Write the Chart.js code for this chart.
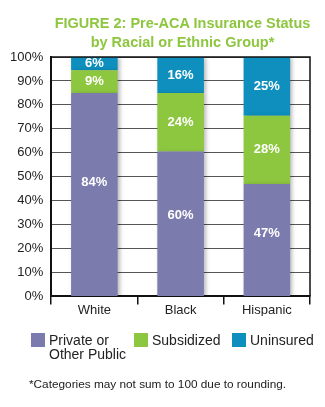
<!DOCTYPE html>
<html>
<head>
<meta charset="utf-8">
<script src="https://cdn.jsdelivr.net/npm/chart.js@4.4.1/dist/chart.umd.min.js"></script>
<style>
  html, body { margin: 0; padding: 0; background: #fff; }
  #wrap { position: relative; width: 325px; height: 407px; font-family: Arial, "Liberation Sans", sans-serif; }
  #chart { position: absolute; left: 0; top: 0; }
  .title { position: absolute; left: 40px; width: 285px; top: 14px; text-align: center;
           color: #8dc63f; font-weight: bold; font-size: 14.5px; line-height: 19px; }
  .leg { position: absolute; top: 333px; font-size: 14px; line-height: 14px; color: #222; }
  .leg .sw { position: absolute; left: 0; top: 0px; width: 14px; height: 14px; }
  .leg .tx { position: absolute; left: 18px; top: 0; white-space: nowrap; }
  .note { position: absolute; left: 29px; top: 377px; font-size: 11.8px; color: #222; white-space: nowrap; }
</style>
</head>
<body>
<div id="wrap">
  <canvas id="chart" width="325" height="407"></canvas>
  <div class="title">FIGURE 2: Pre-ACA Insurance Status<br>by Racial or Ethnic Group*</div>
  <div class="leg" style="left:31px"><div class="sw" style="background:#7b7bad"></div><div class="tx">Private or<br>Other Public</div></div>
  <div class="leg" style="left:134px"><div class="sw" style="background:#8dc63f"></div><div class="tx">Subsidized</div></div>
  <div class="leg" style="left:232px"><div class="sw" style="background:#0e8fbd"></div><div class="tx">Uninsured</div></div>
  <div class="note">*Categories may not sum to 100 due to rounding.</div>
</div>
<script>
// categories and values (bar heights, labels as printed)
const groups = ['White', 'Black', 'Hispanic'];
const privateVals = [85, 60.5, 47];
const subsidizedVals = [9.5, 24.5, 28.5];
const uninsuredVals = [5.5, 15, 24.5];
const privateLabels = ['84%', '60%', '47%'];
const subsidizedLabels = ['9%', '24%', '28%'];
const uninsuredLabels = ['6%', '16%', '25%'];
const yTicks = [0, 10, 20, 30, 40, 50, 60, 70, 80, 90, 100];

const FONT = 'Arial, "Liberation Sans", sans-serif';

// soft shadow behind the bars
const barShadow = {
  id: 'barShadow',
  beforeDatasetsDraw(chart) {
    const ctx = chart.ctx;
    ctx.save();
    ctx.shadowColor = 'rgba(0,0,0,0.28)';
    ctx.shadowBlur = 4;
    ctx.shadowOffsetX = 2;
    ctx.shadowOffsetY = 1;
  },
  afterDatasetsDraw(chart) {
    chart.ctx.restore();
  }
};

// white percent labels inside the segments
const segLabels = {
  id: 'segLabels',
  afterDatasetsDraw(chart) {
    const ctx = chart.ctx;
    ctx.save();
    ctx.fillStyle = '#fff';
    ctx.font = 'bold 13px ' + FONT;
    ctx.textAlign = 'center';
    ctx.textBaseline = 'middle';
    chart.data.datasets.forEach((ds, i) => {
      const meta = chart.getDatasetMeta(i);
      meta.data.forEach((bar, j) => {
        const frac = ds.labelPos;
        const y = bar.base - (bar.base - bar.y) * frac;
        ctx.fillText(ds.texts[j], bar.x, y);
      });
    });
    ctx.restore();
  }
};

// top and right frame of the plot area
const frame = {
  id: 'frame',
  afterDraw(chart) {
    const { ctx, chartArea: a } = chart;
    ctx.save();
    ctx.strokeStyle = '#111';
    ctx.lineWidth = 1.5;
    ctx.beginPath();
    ctx.moveTo(a.left, a.top);
    ctx.lineTo(a.right, a.top);
    ctx.lineTo(a.right, a.bottom);
    ctx.stroke();
    ctx.restore();
  }
};

new Chart(document.getElementById('chart'), {
  type: 'bar',
  data: {
    labels: groups,
    datasets: [
      { label: 'Private or Other Public', data: privateVals, texts: privateLabels, labelPos: 0.56, backgroundColor: '#7b7bad' },
      { label: 'Subsidized', data: subsidizedVals, texts: subsidizedLabels, labelPos: 0.5, backgroundColor: '#8dc63f' },
      { label: 'Uninsured', data: uninsuredVals, texts: uninsuredLabels, labelPos: 0.5, backgroundColor: '#0e8fbd' }
    ]
  },
  options: {
    responsive: false,
    animation: false,
    layout: { padding: { left: 2, right: 15, top: 57, bottom: 91 } },
    datasets: { bar: { categoryPercentage: 1, barPercentage: 0.54, borderWidth: 0 } },
    plugins: { legend: { display: false }, tooltip: { enabled: false }, title: { display: false } },
    scales: {
      x: {
        stacked: true,
        grid: { offset: true, drawOnChartArea: false, drawTicks: true, tickLength: 8, color: '#111', lineWidth: 1.5 },
        border: { color: '#111', width: 2 },
        ticks: { color: '#222', font: { family: FONT, size: 13 }, padding: -2 }
      },
      y: {
        stacked: true,
        min: 0,
        max: 100,
        afterBuildTicks(scale) { scale.ticks = yTicks.map(v => ({ value: v })); },
        grid: { color: '#555', lineWidth: 1, drawTicks: false },
        border: { color: '#111', width: 2 },
        ticks: { color: '#222', font: { family: FONT, size: 13 }, padding: 8, callback: v => v + '%' }
      }
    }
  },
  plugins: [barShadow, segLabels, frame]
});
</script>
</body>
</html>
